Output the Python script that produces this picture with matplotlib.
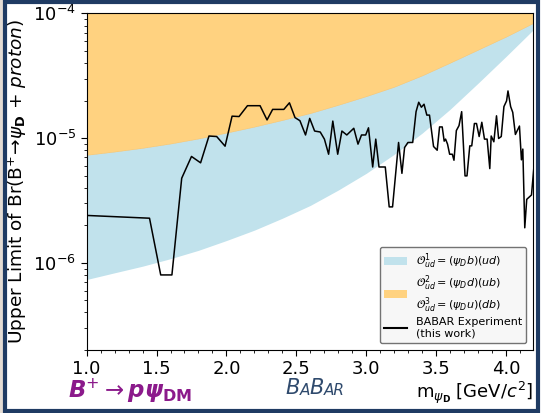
import matplotlib
matplotlib.use("Agg")
import matplotlib.pyplot as plt
from matplotlib.patches import Patch, Rectangle
from matplotlib.lines import Line2D
from matplotlib.ticker import AutoMinorLocator

# Theory band boundaries
band_x = [1.0, 1.2, 1.4, 1.6, 1.8, 2.0, 2.2, 2.4, 2.6, 2.8, 3.0, 3.2, 3.4, 3.6, 3.8, 4.0, 4.2]
o1_lower = [7.35e-7, 8.32e-7, 9.40e-7, 1.08e-6, 1.26e-6, 1.51e-6, 1.83e-6, 2.28e-6, 2.89e-6,
            3.84e-6, 5.23e-6, 7.43e-6, 1.10e-5, 1.71e-5, 2.77e-5, 4.54e-5, 7.53e-5]
o23_lower = [7.30e-6, 7.76e-6, 8.31e-6, 9.0e-6, 9.88e-6, 1.10e-5, 1.23e-5, 1.39e-5, 1.58e-5,
             1.84e-5, 2.16e-5, 2.57e-5, 3.17e-5, 4.01e-5, 5.10e-5, 6.49e-5, 8.41e-5]
band_top = 1e-3

# BABAR upper limit
ul_m = [1.00, 1.45, 1.53, 1.61, 1.68, 1.75, 1.815, 1.875, 1.93, 1.99, 2.04, 2.09, 2.15, 2.24,
        2.29, 2.33, 2.41, 2.45, 2.49, 2.525, 2.565, 2.595, 2.63, 2.67, 2.70, 2.73, 2.76, 2.795,
        2.825, 2.86, 2.91, 2.94, 2.965, 2.995, 3.015, 3.045, 3.067, 3.09, 3.135, 3.163, 3.187,
        3.23, 3.254, 3.273, 3.297, 3.331, 3.355, 3.374, 3.393, 3.412, 3.432, 3.451, 3.48, 3.506,
        3.523, 3.542, 3.556, 3.566, 3.58, 3.595, 3.614, 3.626, 3.643, 3.662, 3.681, 3.705, 3.719,
        3.739, 3.753, 3.772, 3.787, 3.806, 3.825, 3.844, 3.863, 3.882, 3.892, 3.911, 3.93, 3.945,
        3.964, 3.983, 4.002, 4.012, 4.031, 4.046, 4.065, 4.094, 4.108, 4.118, 4.132, 4.146, 4.18, 4.20]
ul_br = [2.40e-6, 2.28e-6, 8.0e-7, 8.0e-7, 4.77e-6, 7.13e-6, 6.34e-6, 1.04e-5, 1.03e-5, 8.62e-6,
         1.50e-5, 1.49e-5, 1.82e-5, 1.82e-5, 1.40e-5, 1.70e-5, 1.70e-5, 1.92e-5, 1.46e-5, 1.38e-5,
         1.06e-5, 1.44e-5, 1.14e-5, 1.12e-5, 9.82e-6, 7.43e-6, 1.37e-5, 7.43e-6, 1.14e-5, 1.06e-5,
         1.20e-5, 8.95e-6, 1.06e-5, 1.06e-5, 1.21e-5, 5.87e-6, 9.82e-6, 5.87e-6, 5.87e-6, 2.81e-6,
         2.81e-6, 9.23e-6, 5.22e-6, 8.41e-6, 9.23e-6, 9.23e-6, 1.63e-5, 1.94e-5, 1.77e-5, 1.87e-5,
         1.53e-5, 1.53e-5, 8.57e-6, 8.0e-6, 1.23e-5, 1.23e-5, 9.46e-6, 9.82e-6, 8.95e-6, 7.43e-6,
         7.43e-6, 6.65e-6, 1.15e-5, 1.26e-5, 1.63e-5, 4.98e-6, 4.98e-6, 8.67e-6, 8.67e-6, 1.31e-5,
         1.31e-5, 1.03e-5, 1.34e-5, 9.82e-6, 9.82e-6, 5.70e-6, 1.04e-5, 9.35e-6, 1.51e-5, 9.93e-6,
         1.03e-5, 1.79e-5, 1.99e-5, 2.39e-5, 1.79e-5, 1.61e-5, 1.07e-5, 1.25e-5, 6.70e-6, 8.17e-6,
         1.91e-6, 3.23e-6, 3.50e-6, 6.37e-6]

xticks = [1.0, 1.5, 2.0, 2.5, 3.0, 3.5, 4.0]

blue = '#c1e2ec'
orange = '#ffd280'

fig = plt.figure(figsize=(5.41, 4.13), dpi=100)
fig.patch.set_facecolor('white')
ax = fig.add_axes([0.160, 0.1525, 0.825, 0.815])

ax.fill_between(band_x, o23_lower, band_top, color=orange, lw=0.8, edgecolor='#f3c77a', zorder=1)
ax.fill_between(band_x, o1_lower, o23_lower, color=blue, lw=0, zorder=1)
ax.plot(ul_m, ul_br, color='black', lw=1.1, zorder=3)

ax.set_yscale('log')
ax.set_xlim(1.0, 4.19)
ax.set_ylim(2e-7, 1e-4)
ax.set_xticks(xticks)
ax.xaxis.set_minor_locator(AutoMinorLocator(5))
ax.tick_params(axis='both', which='major', labelsize=13, length=4)
ax.tick_params(axis='both', which='minor', length=2.5)

ax.set_ylabel(r'Upper Limit of Br(B$^{+}\!\rightarrow\!\psi_{\mathbf{D}}$ + $proton$)', fontsize=13.3,
              labelpad=3)
ax.set_xlabel(r'm$_{\psi_{\mathbf{D}}}$ [GeV/$c^{2}$]', fontsize=13, loc='right', labelpad=1)

handles = [Patch(facecolor=blue, edgecolor='none'),
           Patch(facecolor=orange, edgecolor='none'),
           Line2D([0], [0], color='black', lw=1.5)]
labels = [r'$\mathcal{O}^{1}_{ud}=(\psi_D b)(ud)$',
          r'$\mathcal{O}^{2}_{ud}=(\psi_D d)(ub)$' + '\n' + r'$\mathcal{O}^{3}_{ud}=(\psi_D u)(db)$',
          'BABAR Experiment\n(this work)']
leg = ax.legend(handles, labels, loc='lower right', fontsize=8, frameon=True,
                fancybox=True, framealpha=1.0, facecolor='#f7f7f7', edgecolor='0.45',
                borderaxespad=0.6, handlelength=2.0, labelspacing=0.2, borderpad=0.4)
leg.get_frame().set_linewidth(1.0)

# bottom annotations
fig.text(0.125, 0.036, r'$\mathbfit{B}^{+}\rightarrow\mathbfit{p\psi}_{\mathbf{DM}}$',
         color='#8b1a8b', fontsize=16.5)
bb_color = '#2f4a6d'
t1 = fig.text(0.527, 0.045, 'B', color=bb_color, fontsize=15, style='italic')
t2 = ax.annotate('A', xy=(1, 0), xycoords=t1, color=bb_color, fontsize=11, style='italic', va='bottom')
t3 = ax.annotate('B', xy=(1, 0), xycoords=t2, color=bb_color, fontsize=15, style='italic', va='bottom')
t4 = ax.annotate('AR', xy=(1, 0), xycoords=t3, color=bb_color, fontsize=11, style='italic', va='bottom')

# frame around the figure
fig.patches.append(Rectangle((0, 0), 0.008, 1, transform=fig.transFigure,
                             facecolor='#e4dcd4', edgecolor='none', zorder=0))
fig.patches.append(Rectangle((0.0095, 0.005), 0.985, 0.989, transform=fig.transFigure,
                             facecolor='none', edgecolor='#1f3b63', lw=3.0, zorder=10))

fig.savefig('out.png', dpi=100)
